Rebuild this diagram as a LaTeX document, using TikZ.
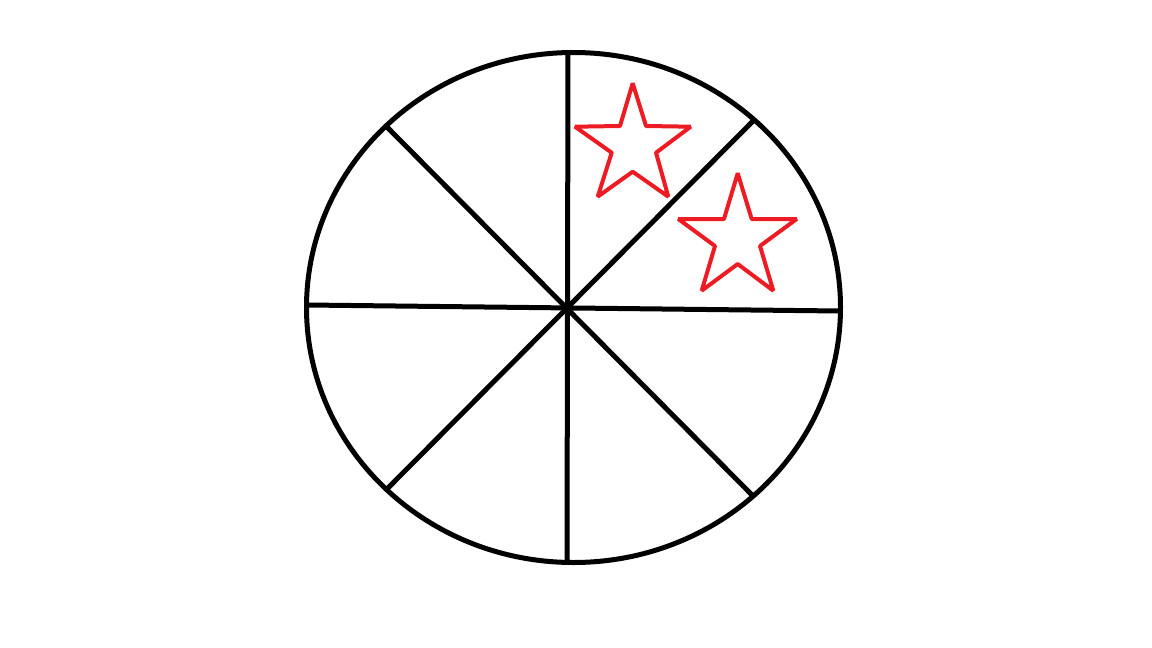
\documentclass[tikz,border=0pt]{standalone}
\usepackage{tikz}
\usepackage{xcolor}
\definecolor{StarRed}{RGB}{237,28,36}

\begin{document}
\begin{tikzpicture}[
x=1pt,y=-1pt,
rim/.style={draw=black,line width=5pt},
spoke/.style={draw=black,line width=5pt},
starline/.style={draw=StarRed,line width=4pt,line join=bevel}
]
\useasboundingbox (0,0) rectangle (1152,648);
% wheel
\draw[rim] (573.5,307.5) ellipse (267 and 255);
\draw[spoke] (568,52) -- (567,562);
\draw[spoke] (307,305) -- (840,311);
\draw[spoke] (387,127) -- (752,495);
\draw[spoke] (753,121) -- (387,489);
% stars
\draw[starline] (632.7,83.3) -- (646,126) -- (690.7,126.7) -- (656,152.7) -- (668.3,196.7)
  -- (632.7,171.7) -- (597.7,196.7) -- (611.7,152.7) -- (575,126.7) -- (620,126) -- cycle;
\draw[starline] (737.7,173.3) -- (751.7,219) -- (796.7,219) -- (760,246) -- (773.3,290.7)
  -- (737.7,264) -- (701.7,290.7) -- (715,246) -- (678.3,219) -- (724,219) -- cycle;
\end{tikzpicture}
\end{document}
